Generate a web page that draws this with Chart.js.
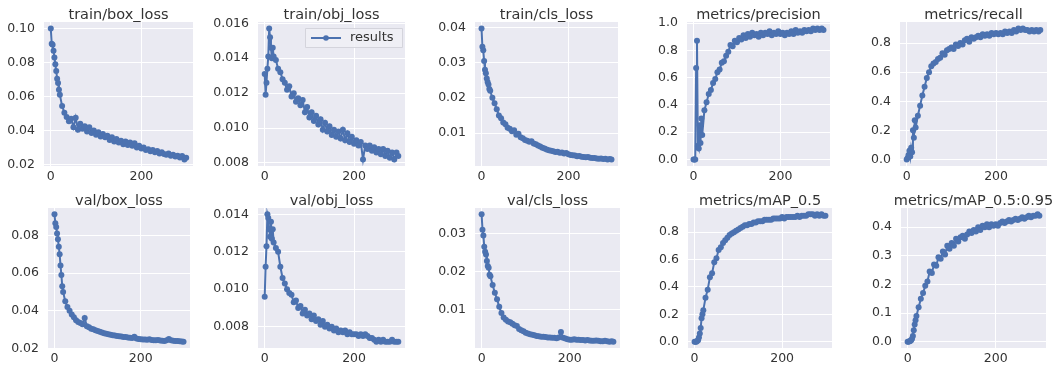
<!DOCTYPE html>
<html>
<head>
<meta charset="utf-8">
<script src="https://cdn.jsdelivr.net/npm/chart.js@4.4.1/dist/chart.umd.min.js"></script>
<style>
    html, body { margin: 0; padding: 0; background: #fff; }
    #board { position: relative; width: 1055px; height: 367px; overflow: hidden; }
    #board canvas { position: absolute; }
</style>
</head>
<body>
<div id="board"></div>
<script>
const epochs = [0, 2, 4, 6, 8, 10, 12, 14, 16, 18, 20, 25, 30, 35, 40, 45, 50, 55, 60, 65,
    70, 75, 80, 85, 90, 95, 100, 105, 110, 115, 120, 125, 130, 135, 140, 145, 150, 155, 160, 165,
    170, 175, 180, 185, 190, 195, 200, 205, 210, 215, 220, 225, 230, 235, 240, 245, 250, 255, 260, 265,
    270, 275, 280, 285, 290, 295, 299];

const titles = ['train/box_loss', 'train/obj_loss', 'train/cls_loss', 'metrics/precision', 'metrics/recall',
    'val/box_loss', 'val/obj_loss', 'val/cls_loss', 'metrics/mAP_0.5', 'metrics/mAP_0.5:0.95'];

const trainBox = [0.1000, 0.0910, 0.0905, 0.0870, 0.0830, 0.0790, 0.0750, 0.0705, 0.0680, 0.0640, 0.0610, 0.0545, 0.0505, 0.0480, 0.0455, 0.0470, 0.0420, 0.0475, 0.0405, 0.0440,
    0.0410, 0.0425, 0.0395, 0.0420, 0.0385, 0.0400, 0.0375, 0.0390, 0.0365, 0.0380, 0.0360, 0.0370, 0.0345, 0.0360, 0.0335, 0.0350, 0.0330, 0.0340, 0.0320, 0.0335,
    0.0315, 0.0330, 0.0310, 0.0325, 0.0300, 0.0310, 0.0295, 0.0300, 0.0285, 0.0290, 0.0278, 0.0285, 0.0272, 0.0280, 0.0265, 0.0272, 0.0262, 0.0258, 0.0265, 0.0252,
    0.0258, 0.0248, 0.0252, 0.0242, 0.0250, 0.0230, 0.0240];
const trainObj = [0.0131, 0.0119, 0.0126, 0.0134, 0.0141, 0.0157, 0.0152, 0.0146, 0.0140, 0.0146, 0.0141, 0.0139, 0.0134, 0.0132, 0.0128, 0.0126, 0.0122, 0.0124, 0.0118, 0.0120,
    0.0115, 0.0117, 0.0113, 0.0116, 0.0109, 0.0112, 0.0106, 0.0109, 0.0104, 0.0107, 0.0102, 0.0105, 0.0099, 0.0103, 0.0098, 0.0101, 0.0096, 0.0099, 0.0095, 0.0098,
    0.0094, 0.0099, 0.0093, 0.0097, 0.0092, 0.0095, 0.0091, 0.0093, 0.0090, 0.0092, 0.0082, 0.0090, 0.0088, 0.0090, 0.0087, 0.0089, 0.0086, 0.0088, 0.0085, 0.0088,
    0.0084, 0.0087, 0.0083, 0.0086, 0.0082, 0.0086, 0.0084];
const trainCls = [0.0397, 0.0345, 0.0335, 0.0305, 0.0280, 0.0270, 0.0255, 0.0245, 0.0238, 0.0225, 0.0220, 0.0200, 0.0185, 0.0168, 0.0150, 0.0142, 0.0130, 0.0125, 0.0115, 0.0112,
    0.0105, 0.0108, 0.0095, 0.0098, 0.0088, 0.0085, 0.0080, 0.0078, 0.0075, 0.0077, 0.0070, 0.0068, 0.0065, 0.0062, 0.0058, 0.0056, 0.0053, 0.0051, 0.0050, 0.0048,
    0.0046, 0.0047, 0.0044, 0.0045, 0.0042, 0.0043, 0.0040, 0.0038, 0.0037, 0.0036, 0.0034, 0.0035, 0.0033, 0.0032, 0.0031, 0.0032, 0.0030, 0.0029, 0.0029, 0.0028,
    0.0027, 0.0028, 0.0026, 0.0027, 0.0025, 0.0026, 0.0025];
const precision = [0.00, 0.00, 0.00, 0.67, 0.87, 0.10, 0.08, 0.25, 0.12, 0.30, 0.18, 0.36, 0.42, 0.48, 0.51, 0.56, 0.59, 0.64, 0.66, 0.71,
    0.72, 0.76, 0.79, 0.84, 0.83, 0.87, 0.86, 0.89, 0.88, 0.91, 0.89, 0.92, 0.90, 0.93, 0.91, 0.92, 0.90, 0.93, 0.91, 0.93,
    0.92, 0.94, 0.91, 0.93, 0.92, 0.94, 0.92, 0.93, 0.91, 0.93, 0.92, 0.94, 0.92, 0.95, 0.93, 0.94, 0.93, 0.95, 0.94, 0.95,
    0.94, 0.96, 0.95, 0.96, 0.95, 0.96, 0.95];
const recall = [0.00, 0.01, 0.03, 0.06, 0.02, 0.08, 0.05, 0.20, 0.15, 0.27, 0.22, 0.30, 0.37, 0.44, 0.50, 0.56, 0.60, 0.64, 0.66, 0.67,
    0.69, 0.70, 0.73, 0.72, 0.75, 0.76, 0.77, 0.76, 0.79, 0.78, 0.80, 0.79, 0.82, 0.83, 0.81, 0.84, 0.83, 0.84, 0.85, 0.84,
    0.86, 0.85, 0.86, 0.85, 0.87, 0.86, 0.87, 0.86, 0.87, 0.86, 0.88, 0.87, 0.88, 0.87, 0.89, 0.88, 0.90, 0.89, 0.90, 0.89,
    0.89, 0.88, 0.89, 0.88, 0.89, 0.88, 0.89];
const valBox = [0.0912, 0.0865, 0.0845, 0.0810, 0.0780, 0.0740, 0.0700, 0.0640, 0.0590, 0.0530, 0.0500, 0.0450, 0.0420, 0.0400, 0.0380, 0.0365, 0.0350, 0.0340, 0.0335, 0.0328,
    0.0362, 0.0318, 0.0312, 0.0305, 0.0302, 0.0296, 0.0292, 0.0288, 0.0285, 0.0280, 0.0278, 0.0275, 0.0272, 0.0270, 0.0268, 0.0266, 0.0264, 0.0263, 0.0261, 0.0260,
    0.0258, 0.0256, 0.0255, 0.0262, 0.0253, 0.0250, 0.0249, 0.0248, 0.0247, 0.0246, 0.0249, 0.0245, 0.0244, 0.0243, 0.0245, 0.0242, 0.0241, 0.0240, 0.0243, 0.0250,
    0.0244, 0.0241, 0.0240, 0.0239, 0.0238, 0.0237, 0.0236];
const valObj = [0.0096, 0.0112, 0.0123, 0.0140, 0.0138, 0.0132, 0.0128, 0.0136, 0.0127, 0.0132, 0.0125, 0.0122, 0.0120, 0.0112, 0.0106, 0.0103, 0.0100, 0.0098, 0.0097, 0.0093,
    0.0094, 0.0090, 0.0091, 0.0087, 0.0089, 0.0086, 0.0087, 0.0084, 0.0086, 0.0083, 0.0084, 0.0081, 0.0083, 0.0080, 0.0081, 0.0079, 0.0080, 0.0078, 0.0079, 0.0077,
    0.0078, 0.0077, 0.0078, 0.0076, 0.0077, 0.0076, 0.0076, 0.0076, 0.0075, 0.0076, 0.0075, 0.0076, 0.0075, 0.0074, 0.0074, 0.0073, 0.0072, 0.0073, 0.0072, 0.0073,
    0.0072, 0.0072, 0.0072, 0.0073, 0.0072, 0.0072, 0.0072];
const valCls = [0.0350, 0.0310, 0.0295, 0.0265, 0.0252, 0.0245, 0.0228, 0.0215, 0.0210, 0.0192, 0.0188, 0.0165, 0.0145, 0.0128, 0.0108, 0.0092, 0.0080, 0.0074, 0.0070, 0.0068,
    0.0064, 0.0060, 0.0058, 0.0050, 0.0047, 0.0044, 0.0040, 0.0038, 0.0036, 0.0035, 0.0034, 0.0032, 0.0031, 0.0030, 0.0030, 0.0029, 0.0028, 0.0028, 0.0027, 0.0027,
    0.0026, 0.0028, 0.0042, 0.0027, 0.0025, 0.0023, 0.0022, 0.0022, 0.0023, 0.0022, 0.0022, 0.0021, 0.0021, 0.0020, 0.0021, 0.0020, 0.0019, 0.0019, 0.0020, 0.0019,
    0.0018, 0.0018, 0.0019, 0.0018, 0.0017, 0.0018, 0.0017];
const map50 = [0.000, 0.000, 0.000, 0.005, 0.010, 0.030, 0.060, 0.100, 0.170, 0.200, 0.230, 0.320, 0.380, 0.470, 0.500, 0.580, 0.610, 0.670, 0.690, 0.720,
    0.740, 0.760, 0.780, 0.790, 0.800, 0.810, 0.820, 0.830, 0.840, 0.850, 0.850, 0.860, 0.860, 0.870, 0.870, 0.880, 0.880, 0.880, 0.890, 0.890,
    0.890, 0.890, 0.900, 0.900, 0.900, 0.900, 0.910, 0.900, 0.910, 0.910, 0.910, 0.910, 0.910, 0.920, 0.910, 0.920, 0.920, 0.920, 0.930, 0.930,
    0.930, 0.920, 0.930, 0.920, 0.930, 0.920, 0.920];
const map5095 = [0.000, 0.000, 0.001, 0.002, 0.005, 0.010, 0.020, 0.040, 0.060, 0.075, 0.090, 0.120, 0.150, 0.170, 0.195, 0.210, 0.245, 0.240, 0.270, 0.265,
    0.295, 0.290, 0.315, 0.305, 0.335, 0.325, 0.345, 0.335, 0.360, 0.350, 0.365, 0.370, 0.360, 0.375, 0.385, 0.380, 0.390, 0.385, 0.400, 0.390,
    0.405, 0.400, 0.410, 0.400, 0.410, 0.405, 0.410, 0.405, 0.415, 0.420, 0.415, 0.420, 0.425, 0.420, 0.425, 0.430, 0.425, 0.430, 0.435, 0.430,
    0.435, 0.440, 0.435, 0.440, 0.440, 0.445, 0.440];

const seriesList = [trainBox, trainObj, trainCls, precision, recall, valBox, valObj, valCls, map50, map5095];

// tick labels of every panel
const yTickLabels = [
    ['0.02', '0.04', '0.06', '0.08', '0.10'],
    ['0.008', '0.010', '0.012', '0.014', '0.016'],
    ['0.01', '0.02', '0.03', '0.04'],
    ['0.0', '0.2', '0.4', '0.6', '0.8', '1.0'],
    ['0.0', '0.2', '0.4', '0.6', '0.8'],
    ['0.02', '0.04', '0.06', '0.08'],
    ['0.008', '0.010', '0.012', '0.014'],
    ['0.01', '0.02', '0.03'],
    ['0.0', '0.2', '0.4', '0.6', '0.8'],
    ['0.0', '0.1', '0.2', '0.3', '0.4']
];
const xTickLabels = ['0', '200'];
const legendLabel = 'results';

// plot area of each panel: left, top, right, bottom (pixels)
const panelBoxes = [
    [44, 22, 193, 166], [258, 22, 405, 166], [475, 22, 618, 166], [687, 22, 830, 166], [900, 22, 1047, 166],
    [48, 208, 190, 348], [258, 208, 405, 348], [475, 208, 620, 348], [688, 208, 832, 348], [901, 208, 1046, 348]
];

const FONT = 'DejaVu Sans';
const TEXT_COLOR = '#333333';
const LINE_COLOR = '#4c72b0';
const Y_W = 46;       // y axis strip; an empty strip of the same width sits on the right so titles centre on the plot
const TITLE_H = 18;
const X_H = 22;

const plotBg = {
    id: 'plotBg',
    beforeDraw(chart) {
        const { ctx, chartArea: a } = chart;
        ctx.save();
        ctx.fillStyle = '#eaeaf2';
        ctx.fillRect(a.left, a.top, a.right - a.left, a.bottom - a.top);
        ctx.restore();
    }
};

// matplotlib style legend drawn inside the plot, upper right
const insideLegend = {
    id: 'insideLegend',
    afterDatasetsDraw(chart) {
        const { ctx, chartArea: a } = chart;
        const ds = chart.data.datasets[0];
        const w = 97, h = 19;
        const x = a.right - 3 - w, y = a.top + 6;
        ctx.save();
        ctx.fillStyle = 'rgba(240,240,246,0.85)';
        ctx.strokeStyle = '#d4d4dc';
        ctx.lineWidth = 1;
        ctx.beginPath();
        ctx.rect(x + 0.5, y + 0.5, w, h);
        ctx.fill();
        ctx.stroke();
        const cy = y + h / 2 + 0.5;
        ctx.strokeStyle = ds.borderColor;
        ctx.lineWidth = 2;
        ctx.beginPath();
        ctx.moveTo(x + 6, cy);
        ctx.lineTo(x + 36, cy);
        ctx.stroke();
        ctx.fillStyle = ds.borderColor;
        ctx.beginPath();
        ctx.arc(x + 21, cy, 2.8, 0, Math.PI * 2);
        ctx.fill();
        ctx.fillStyle = TEXT_COLOR;
        ctx.font = '13px "' + FONT + '"';
        ctx.textBaseline = 'middle';
        ctx.fillText(ds.label, x + 45, cy);
        ctx.restore();
    }
};

function makePanel(i) {
    const [L, T, R, B] = panelBoxes[i];
    const vals = seriesList[i];
    const labels = yTickLabels[i];
    const lo = Math.min(...vals), hi = Math.max(...vals);
    const pad = (hi - lo) * 0.05;

    const canvas = document.createElement('canvas');
    const w = R - L + 2 * Y_W;
    const h = B - T + TITLE_H + X_H;
    canvas.width = w;
    canvas.height = h;
    canvas.style.width = w + 'px';
    canvas.style.height = h + 'px';
    canvas.style.left = (L - Y_W) + 'px';
    canvas.style.top = (T - TITLE_H) + 'px';
    document.getElementById('board').appendChild(canvas);

    const tickFont = { family: FONT, size: 12.5 };

    new Chart(canvas, {
        type: 'line',
        data: {
            datasets: [{
                label: legendLabel,
                data: epochs.map((e, k) => ({ x: e, y: vals[k] })),
                borderColor: LINE_COLOR,
                backgroundColor: LINE_COLOR,
                pointBackgroundColor: LINE_COLOR,
                pointBorderWidth: 0,
                pointRadius: 3,
                borderWidth: 2,
                tension: 0,
                fill: false
            }]
        },
        options: {
            responsive: false,
            animation: false,
            devicePixelRatio: 1,
            layout: { padding: 0 },
            plugins: {
                legend: { display: false },
                tooltip: { enabled: false },
                title: {
                    display: true,
                    text: titles[i],
                    color: TEXT_COLOR,
                    font: { family: FONT, size: 14.5, weight: 'normal', lineHeight: '14px' },
                    padding: { top: 4, bottom: 0 }
                }
            },
            scales: {
                x: {
                    type: 'linear',
                    min: -15,
                    max: 314,
                    afterBuildTicks: s => { s.ticks = xTickLabels.map(v => ({ value: Number(v) })); },
                    afterFit: s => { s.height = X_H; },
                    ticks: { color: TEXT_COLOR, font: tickFont, padding: 3, maxRotation: 0, callback: v => String(v) },
                    grid: { color: '#ffffff', lineWidth: 1, drawTicks: false },
                    border: { display: false }
                },
                y: {
                    type: 'linear',
                    min: lo - pad,
                    max: hi + pad,
                    afterBuildTicks: s => { s.ticks = labels.map(v => ({ value: Number(v) })); },
                    afterFit: s => { s.width = Y_W; },
                    ticks: {
                        color: TEXT_COLOR,
                        font: tickFont,
                        padding: 9,
                        callback: v => labels.find(t => Number(t) === v) || ''
                    },
                    grid: { color: '#ffffff', lineWidth: 1, drawTicks: false },
                    border: { display: false }
                },
                ySpacer: {
                    type: 'linear',
                    position: 'right',
                    afterFit: s => { s.width = Y_W; },
                    ticks: { display: false },
                    grid: { display: false },
                    border: { display: false }
                }
            }
        },
        plugins: i === 1 ? [plotBg, insideLegend] : [plotBg]
    });
}

titles.forEach((t, i) => makePanel(i));
</script>
</body>
</html>
